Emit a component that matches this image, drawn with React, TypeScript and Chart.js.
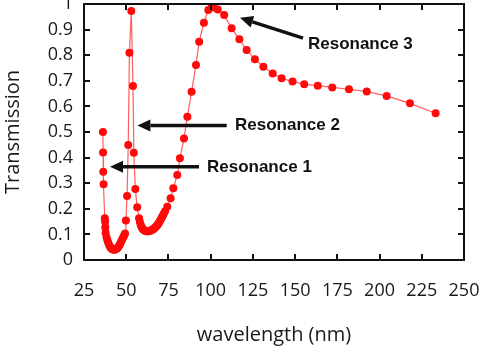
import React, { useEffect, useRef } from "react";
import { Chart, registerables } from "chart.js";

Chart.register(...registerables);

const wavelength = [
  36.2, 36.3, 36.4, 36.6, 37.3, 37.5, 37.6, 37.8, 38.3, 38.8, 39.3, 39.8, 40.3, 40.8,
  41.3, 41.8, 42.3, 42.8, 43.3, 43.8, 44.3, 44.8, 45.3, 45.8, 46.3, 46.8, 47.3, 47.8,
  48.3, 48.8, 49.3, 49.8, 50.5, 51.2, 51.9, 53.0, 54.0, 54.5, 55.4, 56.5, 57.6, 58.1,
  58.6, 59.1, 59.6, 60.1, 60.6, 61.1, 61.6, 62.1, 62.6, 63.1, 63.6, 64.1, 64.6, 65.1,
  65.6, 66.1, 66.6, 67.1, 67.6, 68.1, 68.6, 69.1, 69.6, 70.1, 70.6, 71.1, 71.6, 72.2,
  73.0, 74.3, 76.3, 77.9, 80.2, 81.8, 84.2, 86.2, 88.7, 91.3, 93.2, 96.0, 98.6, 100.6,
  101.8, 104.2, 108.0, 112.4, 117.0, 121.3, 126.2, 131.2, 136.7, 142.0, 148.5, 155.4,
  163.4, 172.0, 181.9, 192.4, 204.2, 218.0, 233.2,
];

const transmission = [
  0.5, 0.42, 0.345, 0.296, 0.163, 0.15, 0.128, 0.106, 0.09, 0.078, 0.068, 0.06, 0.053, 0.048,
  0.045, 0.042, 0.041, 0.04, 0.041, 0.042, 0.044, 0.047, 0.051, 0.056, 0.062, 0.069, 0.076, 0.083,
  0.09, 0.097, 0.104, 0.154, 0.25, 0.449, 0.81, 0.973, 0.68, 0.419, 0.277, 0.206, 0.163, 0.148,
  0.137, 0.129, 0.123, 0.119, 0.116, 0.114, 0.113, 0.112, 0.112, 0.112, 0.113, 0.114, 0.115, 0.117,
  0.119, 0.121, 0.124, 0.127, 0.13, 0.134, 0.138, 0.143, 0.148, 0.154, 0.16, 0.166, 0.173, 0.181,
  0.19, 0.208, 0.241, 0.28, 0.332, 0.397, 0.475, 0.56, 0.657, 0.762, 0.853, 0.927, 0.977, 0.987,
  0.987, 0.979, 0.957, 0.905, 0.862, 0.82, 0.784, 0.755, 0.729, 0.71, 0.697, 0.687,
  0.681, 0.674, 0.667, 0.658, 0.641, 0.612, 0.573,
];

const xTickValues = [25, 50, 75, 100, 125, 150, 175, 200, 225, 250];
const yTickValues = [0, 0.1, 0.2, 0.3, 0.4, 0.5, 0.6, 0.7, 0.8, 0.9, 1];

const xTitle = "wavelength (nm)";
const yTitle = "Transmission";

const annotationLabels = ["Resonance 1", "Resonance 2", "Resonance 3"];
const arrowTipX = [40.4, 56.6, 117.4];
const arrowTipY = [0.364, 0.525, 0.946];
const arrowTailX = [93.1, 109.5, 154.7];
const arrowTailY = [0.364, 0.525, 0.867];
const labelX = [97.8, 114.4, 157.6];
const labelY = [0.364, 0.525, 0.844];

const tickFont = "'Open Sans', 'Noto Sans', sans-serif";

const framePlugin = {
  id: "frameAndAnnotations",
  afterDatasetsDraw(chart: any) {
    const { ctx, chartArea } = chart;
    const xs = chart.scales.x;
    const ys = chart.scales.y;
    const { left, right, top, bottom } = chartArea;
    ctx.save();
    ctx.strokeStyle = "#111";
    ctx.lineWidth = 2;
    ctx.strokeRect(left, top, right - left, bottom - top);
    const tl = 6;
    ctx.lineWidth = 2;
    ctx.beginPath();
    xTickValues.slice(1, -1).forEach((v) => {
      const px = Math.round(xs.getPixelForValue(v));
      ctx.moveTo(px, bottom);
      ctx.lineTo(px, bottom - tl);
      ctx.moveTo(px, top);
      ctx.lineTo(px, top + tl);
    });
    yTickValues.slice(1, -1).forEach((v) => {
      const py = Math.round(ys.getPixelForValue(v));
      ctx.moveTo(left, py);
      ctx.lineTo(left + tl, py);
      ctx.moveTo(right, py);
      ctx.lineTo(right - tl, py);
    });
    ctx.stroke();

    // annotations
    ctx.fillStyle = "#111";
    ctx.strokeStyle = "#111";
    annotationLabels.forEach((label, i) => {
      const tx = xs.getPixelForValue(arrowTipX[i]);
      const ty = ys.getPixelForValue(arrowTipY[i]);
      const sx = xs.getPixelForValue(arrowTailX[i]);
      const sy = ys.getPixelForValue(arrowTailY[i]);
      const ang = Math.atan2(ty - sy, tx - sx);
      const headLen = 13;
      const headHalf = 6;
      const bx = tx - headLen * Math.cos(ang);
      const by = ty - headLen * Math.sin(ang);
      ctx.lineWidth = 3.5;
      ctx.beginPath();
      ctx.moveTo(sx, sy);
      ctx.lineTo(bx, by);
      ctx.stroke();
      ctx.beginPath();
      ctx.moveTo(tx, ty);
      ctx.lineTo(bx + headHalf * Math.sin(ang), by - headHalf * Math.cos(ang));
      ctx.lineTo(bx - headHalf * Math.sin(ang), by + headHalf * Math.cos(ang));
      ctx.closePath();
      ctx.fill();
      ctx.font = "bold 17px 'Liberation Sans', Arial, sans-serif";
      ctx.textAlign = "left";
      ctx.textBaseline = "middle";
      ctx.fillText(label, xs.getPixelForValue(labelX[i]), ys.getPixelForValue(labelY[i]));
    });
    ctx.restore();
  },
};

export default function App() {
  const ref = useRef<HTMLCanvasElement | null>(null);
  useEffect(() => {
    if (!ref.current) return;
    const chart = new Chart(ref.current, {
      type: "line",
      data: {
        datasets: [
          {
            data: wavelength.map((w, i) => ({ x: w, y: transmission[i] })),
            borderColor: "rgba(255,40,40,0.75)",
            borderWidth: 1.2,
            backgroundColor: "#ff0000",
            pointBackgroundColor: "#ff0a0a",
            pointBorderWidth: 0,
            pointRadius: 4,
            tension: 0,
            clip: false,
          } as any,
        ],
      },
      options: {
        animation: false,
        responsive: false,
        devicePixelRatio: 1,
        layout: { padding: { top: 4, right: 22, left: 0, bottom: 0 } },
        plugins: { legend: { display: false }, tooltip: { enabled: false } },
        scales: {
          x: {
            type: "linear",
            min: 25,
            max: 250,
            afterBuildTicks: (s: any) => {
              s.ticks = xTickValues.map((v) => ({ value: v }));
            },
            afterFit: (s: any) => {
              s.height = 94;
              s.paddingLeft = 0;
              s.paddingRight = 0;
            },
            grid: { display: false, drawTicks: false },
            border: { display: false },
            ticks: {
              padding: 20,
              color: "#1a1a1a",
              font: { family: tickFont, size: 18 },
              maxRotation: 0,
              autoSkip: false,
              callback: (v: any) => String(v),
            },
            title: {
              display: true,
              text: xTitle,
              color: "#1a1a1a",
              font: { family: tickFont, size: 20 },
              padding: { top: 0, bottom: 7 },
            },
          },
          y: {
            type: "linear",
            min: 0,
            max: 1,
            afterBuildTicks: (s: any) => {
              s.ticks = yTickValues.map((v) => ({ value: v }));
            },
            afterFit: (s: any) => {
              s.width = 84;
              s.paddingTop = 0;
              s.paddingBottom = 0;
            },
            grid: { display: false, drawTicks: false },
            border: { display: false },
            ticks: {
              padding: 11,
              color: "#1a1a1a",
              font: { family: tickFont, size: 18 },
              autoSkip: false,
              callback: (v: any) => String(Math.round(v * 10) / 10),
            },
            title: {
              display: true,
              text: yTitle,
              color: "#1a1a1a",
              font: { family: tickFont, size: 20 },
              padding: { top: 1, bottom: 0 },
            },
          },
        },
      },
      plugins: [framePlugin],
    });
    return () => chart.destroy();
  }, []);
  return (
    <div style={{ position: "fixed", left: 0, top: 0, width: 486, height: 354, background: "#fff" }}>
      <canvas ref={ref} width={486} height={354} style={{ display: "block" }} />
    </div>
  );
}
